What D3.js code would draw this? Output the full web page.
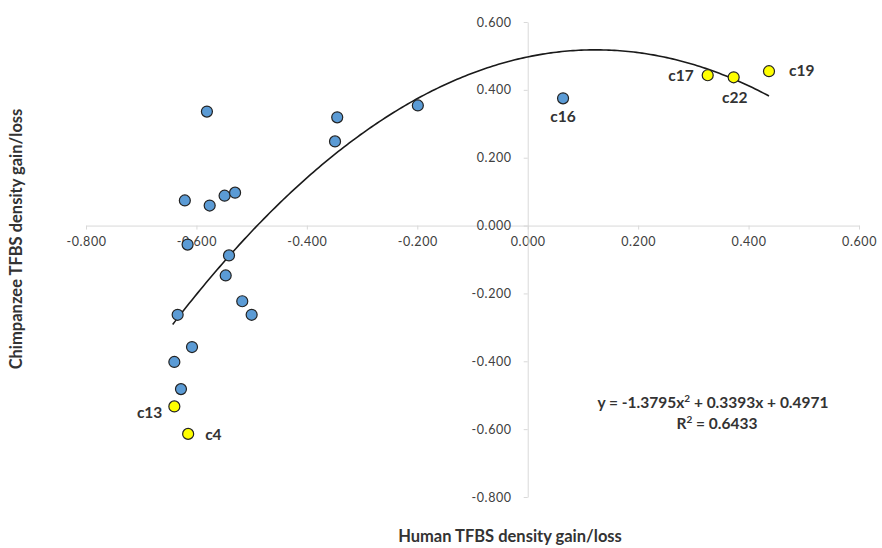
<!DOCTYPE html>
<html><head><meta charset="utf-8">
<script src="https://cdn.jsdelivr.net/npm/d3@7"></script>
<style>body{margin:0;background:#fff;} text{font-family:Lato,"Open Sans",sans-serif;}</style>
</head><body>
<svg id="chart" width="882" height="548"></svg>
<script>
const blueX = [-0.581,-0.345,-0.349,-0.199,0.064,-0.621,-0.576,-0.549,-0.530,-0.616,-0.541,-0.547,-0.517,-0.500,-0.634,-0.608,-0.640,-0.628];
const blueY = [0.336,0.319,0.248,0.354,0.375,0.074,0.059,0.088,0.097,-0.056,-0.088,-0.147,-0.223,-0.263,-0.263,-0.358,-0.402,-0.482];
const yellowNames = ["c13","c4","c17","c22","c19"];
const yellowX = [-0.640,-0.615,0.326,0.373,0.437];
const yellowY = [-0.533,-0.614,0.443,0.437,0.455];
const blueLabelNames = ["c16"];
const blueLabelIdx = [4];
const tickValues = [-0.8,-0.6,-0.4,-0.2,0,0.2,0.4,0.6];
const coef = [-1.3795, 0.3393, 0.4971];

const svg = d3.select("#chart");
const x = d3.scaleLinear().domain([-0.8,0.6]).range([86,859]);
const y = d3.scaleLinear().domain([-0.8,0.6]).range([497,22]);
const f3 = d3.format(".3f");
const fmt = v => f3(v).replace("\u2212","-");
const axisCol = "#d9d9d9", labCol = "#404040";

// x axis at y=0
const gx = svg.append("g").attr("transform",`translate(0,${y(0)})`)
  .call(d3.axisBottom(x).tickValues(tickValues).tickFormat(fmt).tickSize(4).tickSizeOuter(0));
gx.select(".domain").attr("stroke",axisCol);
gx.selectAll(".tick line").attr("stroke",axisCol).attr("y1",0);
gx.selectAll(".tick text").attr("fill",labCol).attr("font-size",12.5).attr("letter-spacing","0.6px").attr("dy","1.05em");

// y axis at x=0
const gy = svg.append("g").attr("transform",`translate(${x(0)},0)`)
  .call(d3.axisLeft(y).tickValues(tickValues).tickFormat(fmt).tickSize(4).tickSizeOuter(0).tickPadding(12));
gy.select(".domain").attr("stroke",axisCol);
gy.selectAll(".tick line").attr("stroke",axisCol);
gy.selectAll(".tick text").attr("fill",labCol).attr("font-size",12.5).attr("letter-spacing","0.6px");

// trendline
const xs = d3.range(-0.643, 0.4371, 0.005);
const line = d3.line().x(d=>x(d)).y(d=>y(coef[0]*d*d+coef[1]*d+coef[2]));
svg.append("path").datum(xs).attr("d",line).attr("fill","none").attr("stroke","#1a1a1a").attr("stroke-width",1.6);

// points
svg.append("g").selectAll("circle").data(blueX).join("circle")
  .attr("cx",(d)=>x(d)).attr("cy",(d,i)=>y(blueY[i])).attr("r",5.5)
  .attr("fill","#5b9bd5").attr("stroke","#222").attr("stroke-width",1.2);
svg.append("g").selectAll("circle").data(yellowX).join("circle")
  .attr("cx",(d)=>x(d)).attr("cy",(d,i)=>y(yellowY[i])).attr("r",5.5)
  .attr("fill","#ffff00").attr("stroke","#222").attr("stroke-width",1.2);

// labels
const lblStyle = s => s.attr("font-size",15.5).attr("font-weight","bold").attr("fill","#333");
const yOff = {c13:[-12,12,"end"], c4:[17,6,"start"], c17:[-14,6,"end"], c22:[1,26,"middle"], c19:[20,5,"start"]};
yellowNames.forEach((n,i)=>{
  const o = yOff[n];
  svg.append("text").attr("x",x(yellowX[i])+o[0]).attr("y",y(yellowY[i])+o[1]).attr("text-anchor",o[2]).text(n).call(lblStyle);
});
blueLabelNames.forEach((n,k)=>{
  const i = blueLabelIdx[k];
  svg.append("text").attr("x",x(blueX[i])).attr("y",y(blueY[i])+24).attr("text-anchor","middle").text(n).call(lblStyle);
});

// equation
const eqStyle = s => s.attr("text-anchor","middle").attr("font-size",15.5).attr("font-weight","bold").attr("fill","#333");
const eq = svg.append("text").attr("x",713).attr("y",408).call(eqStyle);
eq.append("tspan").text("y = -1.3795x");
eq.append("tspan").attr("font-size",10).attr("dy",-6).text("2");
eq.append("tspan").attr("dy",6).text(" + 0.3393x + 0.4971");
const r2 = svg.append("text").attr("x",717).attr("y",429).call(eqStyle);
r2.append("tspan").text("R");
r2.append("tspan").attr("font-size",10).attr("dy",-6).text("2");
r2.append("tspan").attr("dy",6).text(" = 0.6433");

// axis titles
svg.append("text").attr("x",510).attr("y",542).attr("text-anchor","middle").attr("font-size",16.5).attr("font-weight","bold").attr("fill","#333").text("Human TFBS density gain/loss");
svg.append("text").attr("transform","translate(22,239) rotate(-90)").attr("text-anchor","middle").attr("font-size",16.5).attr("font-weight","bold").attr("fill","#333").text("Chimpanzee TFBS density gain/loss");
</script>
</body></html>
